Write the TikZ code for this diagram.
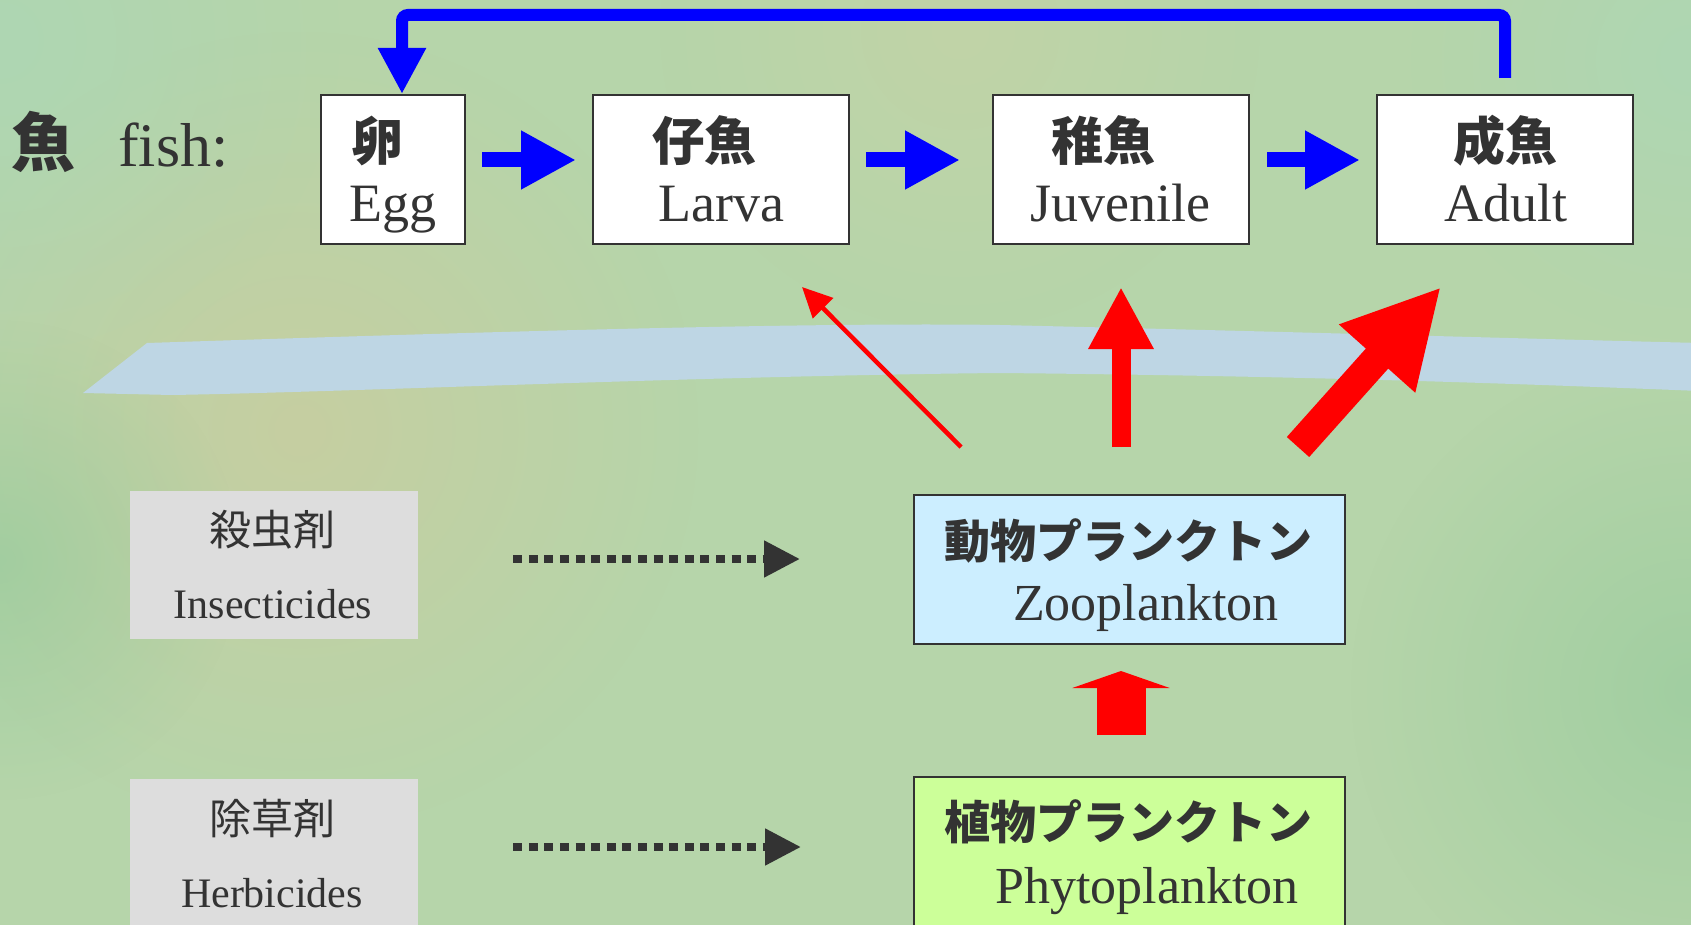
\documentclass[tikz,border=0pt]{standalone}
\usepackage{fontspec}
\setmainfont{Liberation Serif}
\newfontfamily\jp{Noto Sans CJK JP}
\usetikzlibrary{arrows.meta,fadings}
\definecolor{bg}{RGB}{182,213,170}
\definecolor{txt}{RGB}{51,51,51}
\definecolor{band}{RGB}{190,214,228}
\definecolor{zoofill}{RGB}{204,238,255}
\definecolor{phytofill}{RGB}{204,255,153}
\definecolor{greybox}{RGB}{221,221,221}
\definecolor{blobA}{RGB}{214,200,152}
\definecolor{blobB}{RGB}{166,216,188}
\definecolor{blobC}{RGB}{140,200,152}
\definecolor{blobD}{RGB}{204,210,164}
\definecolor{pureblue}{RGB}{0,0,255}
\definecolor{purered}{RGB}{255,0,0}
\tikzfading[name=blobfade, inner color=transparent!0, outer color=transparent!100]
\begin{document}
\begin{tikzpicture}[x=1pt,y=-1pt,
  blob/.style={path fading=blobfade, fill opacity=0.5},
  fishbox/.style={draw=txt, line width=2pt, fill=white, inner sep=0pt, minimum height=149pt},
  plbox/.style={draw=txt, line width=2pt, inner sep=0pt, minimum width=431pt},
  chembox/.style={fill=greybox, inner sep=0pt, minimum width=288pt},
  jpfish/.style={inner sep=0pt, text=txt, font=\jp\bfseries\fontsize{52}{56}\selectfont},
  enfish/.style={inner sep=0pt, anchor=base, text=txt, font=\fontsize{54}{60}\selectfont},
  jppl/.style={inner sep=0pt, text=txt, font=\jp\bfseries\fontsize{46}{50}\selectfont},
  enpl/.style={inner sep=0pt, anchor=base, text=txt, font=\fontsize{52}{58}\selectfont},
  jpchem/.style={inner sep=0pt, text=txt, font=\jp\fontsize{42}{46}\selectfont},
  enchem/.style={inner sep=0pt, anchor=base, text=txt, font=\fontsize{42}{46}\selectfont},
  bluearrow/.style={draw=pureblue, line width=15pt, -{Triangle[length=55pt,width=55pt]}},
  loopline/.style={draw=pureblue, line width=12pt, rounded corners=6pt, -{Triangle[length=46pt,width=45pt]}},
  dotarrow/.style={draw=txt, line width=8pt, dash pattern=on 9pt off 6.6pt, -{Triangle[length=36pt,width=35pt]}},
  redarrow/.style={draw=purered, fill=purered}
]
\useasboundingbox (0,0) rectangle (1691,925);
\clip (0,0) rectangle (1691,925);
% background
\fill[bg] (0,0) rectangle (1691,925);
\fill[blobA, blob] (300,430) circle (400);
\fill[blobB, blob] (0,40) circle (340);
\fill[blobC, blob] (0,560) circle (240);
\fill[blobC, blob] (1691,690) circle (340);
\fill[blobD, blob] (960,30) circle (300);
\fill[blobB, blob] (1691,60) circle (280);
% water surface band
\fill[band] (83,393) -- (147,343) .. controls (450,333) and (800,322) .. (1000,325)
  .. controls (1300,332) and (1500,338) .. (1700,343) -- (1700,391)
  .. controls (1500,383) and (1300,376) .. (1000,373)
  .. controls (700,376) and (350,392) .. (172,395) -- cycle;

% fish row
\node[inner sep=0pt, text=txt, font=\jp\bfseries\fontsize{64}{68}\selectfont] (fishJ) at (44,142) {魚};
\node[inner sep=0pt, anchor=base west, text=txt, font=\fontsize{62}{66}\selectfont] (fishE) at (118,167) {fish:};

\node[fishbox, minimum width=144pt] (egg) at (393,169.5) {};
\node[fishbox, minimum width=256pt] (larva) at (721,169.5) {};
\node[fishbox, minimum width=256pt] (juv) at (1121,169.5) {};
\node[fishbox, minimum width=256pt] (adult) at (1505,169.5) {};

\node[jpfish] (eggJ) at (377,141) {卵};
\node[enfish] (eggE) at (393,222) {Egg};
\node[jpfish] (larvaJ) at (704,141) {仔魚};
\node[enfish] (larvaE) at (721,222) {Larva};
\node[jpfish] (juvJ) at (1103,141) {稚魚};
\node[enfish] (juvE) at (1120,222) {Juvenile};
\node[jpfish] (adultJ) at (1505,141) {成魚};
\node[enfish] (adultE) at (1506,222) {Adult};

% plankton boxes
\node[plbox, fill=zoofill, minimum height=149pt] (zoo) at (1129.5,569.5) {};
\node[plbox, fill=phytofill, minimum height=158pt] (phyto) at (1129.5,856) {};
\node[jppl] (zooJ) at (1128,541) {動物プランクトン};
\node[enpl] (zooE) at (1146,620) {Zooplankton};
\node[jppl] (phytoJ) at (1128,822) {植物プランクトン};
\node[enpl] (phytoE) at (1147,903) {Phytoplankton};

% chemical boxes
\node[chembox, minimum height=148pt] (insect) at (274,565) {};
\node[chembox, minimum height=156pt] (herb) at (274,857) {};
\node[jpchem] (insectJ) at (272,530) {殺虫剤};
\node[enchem] (insectE) at (273,618) {Insecticides};
\node[jpchem] (herbJ) at (272,819) {除草剤};
\node[enchem] (herbE) at (272,907) {Herbicides};

% blue arrows
\draw[bluearrow, shorten <=16pt, shorten >=16pt] ([yshift=9.5pt]egg.east) -- ([yshift=9.5pt]larva.west);
\draw[bluearrow, shorten <=16pt, shorten >=32pt] ([yshift=9.5pt]larva.east) -- ([yshift=9.5pt]juv.west);
\draw[bluearrow, shorten <=17pt, shorten >=16pt] ([yshift=9.5pt]juv.east) -- ([yshift=9.5pt]adult.west);
\coordinate (loopR) at (1505,15);
\coordinate (loopL) at (402,15);
\draw[loopline] ([yshift=16pt]adult.north) -- (loopR) -- (loopL) -- ([xshift=9pt]egg.north);

% dotted arrows
\draw[dotarrow] ([xshift=95pt,yshift=6pt]insect.east) -- ([xshift=-113pt,yshift=10.5pt]zoo.west);
\draw[dotarrow] ([xshift=95pt,yshift=10pt]herb.east) -- ([xshift=-112pt,yshift=9pt]phyto.west);

% red arrows
\coordinate (r1s) at (961,447);
\coordinate (r1e) at (802,287);
\coordinate (r2s) at (1121,447);
\coordinate (r2e) at (1121,287);
\coordinate (r3s) at (1298,447);
\coordinate (r3e) at (1441,287);
\draw[redarrow, line width=4.5pt, -{Triangle[length=30pt,width=28pt]}] (r1s) -- (r1e);
\draw[redarrow, line width=19pt, -{Triangle[length=62pt,width=61pt]}] (r2s) -- (r2e);
\draw[redarrow, line width=30pt, -{Triangle[length=96pt,width=95pt]}] (r3s) -- (r3e);
\draw[redarrow, line width=49pt, -{Triangle[length=17pt,width=97pt]}, shorten <=41pt, shorten >=26pt] ([xshift=-8.5pt]phyto.north) -- ([xshift=-8.5pt]zoo.south);
\end{tikzpicture}
\end{document}
